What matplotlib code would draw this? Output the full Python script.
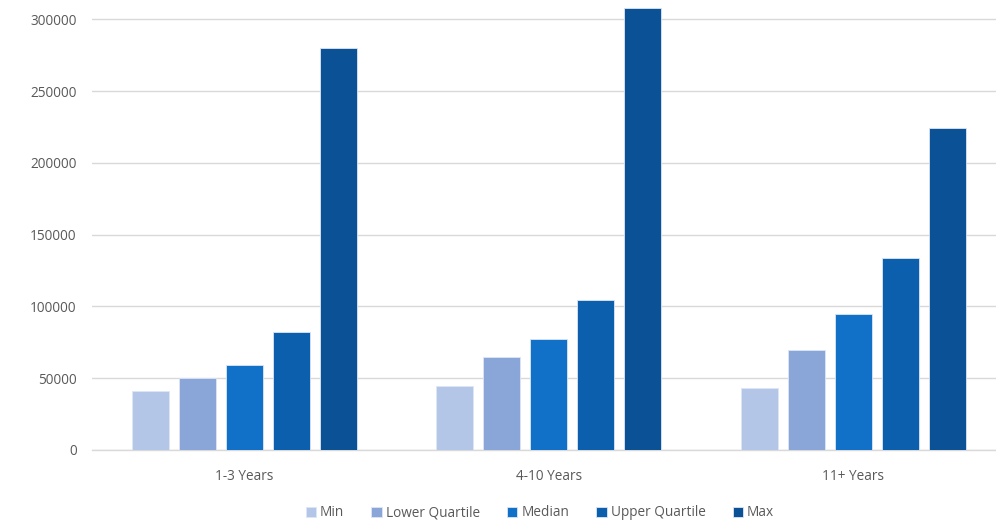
import matplotlib.pyplot as plt
import numpy as np

# salary ranges by experience band
categories = ['1-3 Years', '4-10 Years', '11+ Years']
series_names = ['Min', 'Lower Quartile', 'Median', 'Upper Quartile', 'Max']
min_vals = [41000, 44500, 43500]
lower_q = [50000, 64500, 69500]
median = [59500, 77500, 94500]
upper_q = [82000, 104500, 134000]
max_vals = [280000, 307500, 224500]

colors = ['#B4C6E7', '#8AA5D8', '#1170C8', '#0B5FAD', '#0A5196']
series = [min_vals, lower_q, median, upper_q, max_vals]

plt.rcParams['font.family'] = ['Open Sans', 'DejaVu Sans']

fig = plt.figure(figsize=(9.96, 5.25), dpi=100)
ax = fig.add_axes([0.0924, 0.1429, 0.917, 0.8571])

x = np.arange(len(categories))
width = 0.1215
step = 0.1543
for i, (name, vals) in enumerate(zip(series_names, series)):
    offset = (i - 2) * step
    ax.bar(x + offset, vals, width, color=colors[i], label=name,
           edgecolor='#DCE6F4', linewidth=0.6, zorder=3)

ax.set_xlim(-0.5, 2.5)
ax.set_ylim(0, 313400)
ax.set_yticks(np.arange(0, 300001, 50000))
ax.set_yticklabels([str(v) for v in range(0, 300001, 50000)])
ax.set_xticks(x)
ax.set_xticklabels(categories)

ax.grid(axis='y', color='#D9D9D9', linewidth=1, zorder=0)
for s in ['top', 'right', 'left']:
    ax.spines[s].set_visible(False)
ax.spines['bottom'].set_color('#D9D9D9')
ax.spines['bottom'].set_linewidth(1)
ax.tick_params(axis='both', length=0, colors='#595959', labelsize=9.8)
ax.tick_params(axis='y', pad=11)
ax.tick_params(axis='x', pad=14)

fig.legend(loc='center', bbox_to_anchor=(0.542, 0.023), ncol=5, frameon=False,
           fontsize=9.8, labelcolor='#595959', handlelength=0.75, handleheight=0.75,
           handletextpad=0.3, columnspacing=2.0)

fig.savefig('out.png', dpi=100)
